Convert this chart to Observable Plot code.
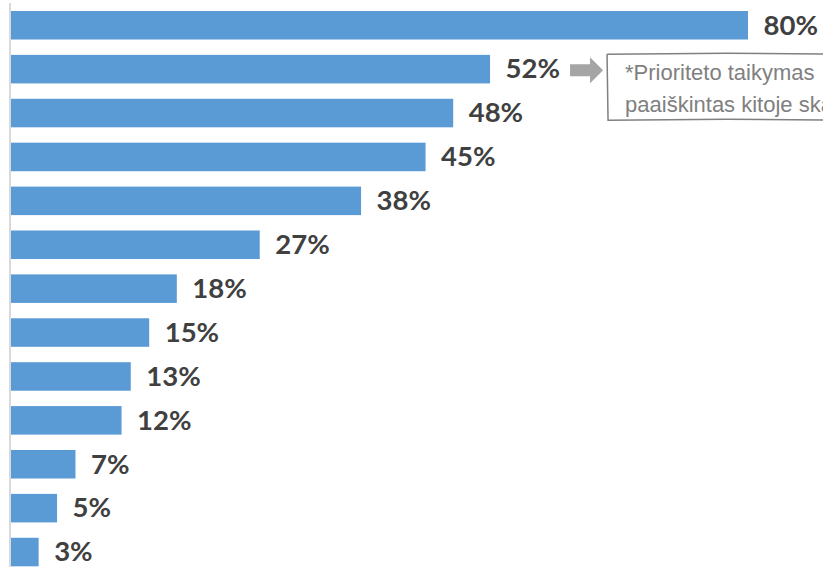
<!DOCTYPE html>
<html>
<head>
<meta charset="utf-8">
<script src="https://cdn.jsdelivr.net/npm/d3@7"></script>
<script src="https://cdn.jsdelivr.net/npm/@observablehq/plot@0.6"></script>
<style>
  html, body { margin: 0; padding: 0; background: #fff; overflow: hidden; }
  #chart svg { display: block; }
</style>
</head>
<body>
<div id="chart"></div>
<script>
// Data
const categories = ["P1","P2","P3","P4","P5","P6","P7","P8","P9","P10","P11","P12","P13"];
const values = [80, 52, 48, 45, 38, 27, 18, 15, 13, 12, 7, 5, 3];
const noteLines = ["*Prioriteto taikymas", "paaiškintas kitoje skaidrėje"];
const noteTarget = "P2";

const data = categories.map((c, i) => ({cat: c, value: values[i]}));

const W = 823, H = 567;
const plot = Plot.plot({
  width: W,
  height: H,
  margin: 0,
  style: {background: "#fff"},
  x: {domain: [0, 80], range: [11, 748], axis: null},
  y: {domain: categories, range: [3.3, 574], paddingInner: 0.35, paddingOuter: 0.175, round: false, axis: null},
  marks: [
    Plot.barX(data, {x: "value", y: "cat", fill: "#5b9bd5"}),
    Plot.text(data, {
      x: "value", y: "cat", text: d => d.value + "%",
      dx: 15, textAnchor: "start", fill: "#404040",
      fontSize: 27.5, fontWeight: "bold", fontFamily: "Lato, 'Open Sans', sans-serif"
    })
  ]
});
document.getElementById("chart").appendChild(plot);

const svg = d3.select(plot);
const xs = plot.scale("x"), ys = plot.scale("y");
// axis line spanning full height
svg.append("line")
  .attr("x1", xs.apply(0) - 1).attr("x2", xs.apply(0) - 1)
  .attr("y1", 3).attr("y2", H)
  .attr("stroke", "#d9d9d9").attr("stroke-width", 2);

// Annotation: arrow and note box, positioned next to the target bar label
const tIdx = categories.indexOf(noteTarget);
const cy = ys.apply(noteTarget) + ys.bandwidth / 2 + 1;
const ax = xs.apply(values[tIdx]) + 80;
svg.append("path")
  .attr("d", `M${ax},${cy-6} L${ax+20},${cy-6} L${ax+20},${cy-13} L${ax+33},${cy} L${ax+20},${cy+13} L${ax+20},${cy+6} L${ax},${cy+6} Z`)
  .attr("fill", "#a5a5a5");
const bx = ax + 37, by = cy - 16;
svg.append("path")
  .attr("d", `M${bx},${by} L${bx+120},${by-1} L${W+20},${by} M${bx},${by} L${bx+1},${by+66} L${bx+120},${by+65} L${W+20},${by+66}`)
  .attr("fill", "none").attr("stroke", "#808080").attr("stroke-width", 1.5);
noteLines.forEach((t, i) => {
  svg.append("text")
    .attr("x", bx + 18).attr("y", by + 26 + i * 32)
    .attr("text-anchor", "start")
    .attr("font-family", "'Liberation Sans', Arial, sans-serif")
    .attr("font-size", 22).attr("fill", "#808080")
    .text(t);
});
</script>
</body>
</html>
